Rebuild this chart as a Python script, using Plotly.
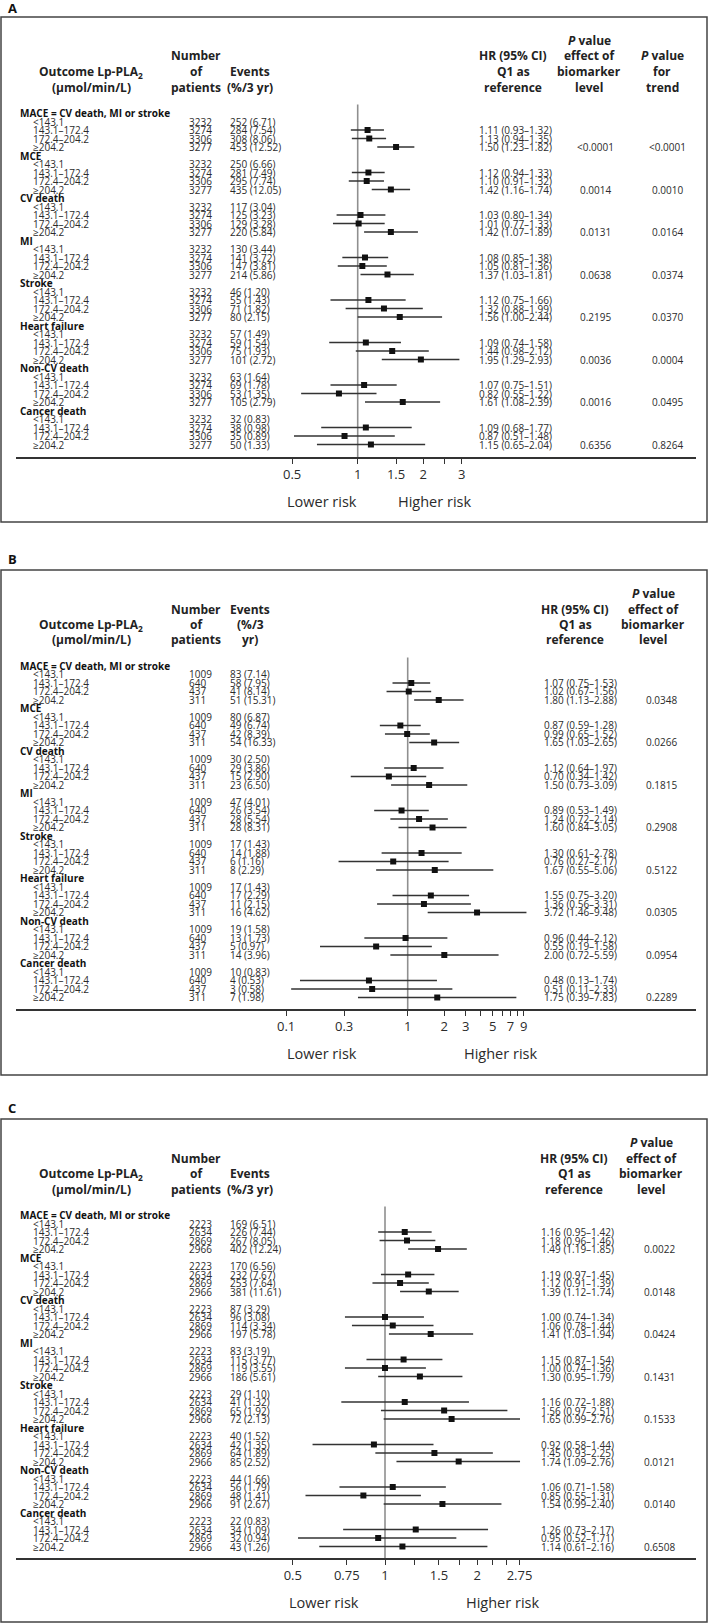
import math
import plotly.graph_objects as go

W, H = 709, 1624
ROW = 8.5
FONT = "Open Sans"

groups = ["MACE = CV death, MI or stroke", "MCE", "CV death", "MI", "Stroke",
          "Heart failure", "Non-CV death", "Cancer death"]
levels = ["<143.1", "143.1–172.4", "172.4–204.2", "≥204.2"]

# ---------------- Panel A ----------------
a_patients = [3232, 3274, 3306, 3277]
a_events = [[252, 284, 308, 453], [250, 281, 295, 435], [117, 125, 129, 220], [130, 141, 147, 214],
            [46, 55, 71, 80], [57, 59, 75, 101], [63, 69, 53, 105], [32, 38, 35, 50]]
a_rate = [[6.71, 7.54, 8.06, 12.52], [6.66, 7.49, 7.74, 12.05], [3.04, 3.23, 3.28, 5.84], [3.44, 3.72, 3.81, 5.86],
          [1.20, 1.43, 1.82, 2.15], [1.49, 1.54, 1.93, 2.72], [1.64, 1.78, 1.35, 2.79], [0.83, 0.98, 0.89, 1.33]]
a_hr = [[1.11, 1.13, 1.50], [1.12, 1.10, 1.42], [1.03, 1.01, 1.42], [1.08, 1.05, 1.37],
        [1.12, 1.32, 1.56], [1.09, 1.44, 1.95], [1.07, 0.82, 1.61], [1.09, 0.87, 1.15]]
a_lo = [[0.93, 0.94, 1.23], [0.94, 0.91, 1.16], [0.80, 0.77, 1.07], [0.85, 0.81, 1.03],
        [0.75, 0.88, 1.00], [0.74, 0.98, 1.29], [0.75, 0.55, 1.08], [0.68, 0.51, 0.65]]
a_hi = [[1.32, 1.35, 1.82], [1.33, 1.32, 1.74], [1.34, 1.33, 1.89], [1.38, 1.36, 1.81],
        [1.66, 1.99, 2.44], [1.58, 2.12, 2.93], [1.51, 1.22, 2.39], [1.77, 1.48, 2.04]]
a_p_effect = ["<0.0001", "0.0014", "0.0131", "0.0638", "0.2195", "0.0036", "0.0016", "0.6356"]
a_p_trend = ["<0.0001", "0.0010", "0.0164", "0.0374", "0.0370", "0.0004", "0.0495", "0.8264"]
a_ticks = [0.5, 1, 1.5, 2, 3]
a_ticktext = ["0.5", "1", "1.5", "2", "3"]
a_minor_ticks = [2.5]

# ---------------- Panel B ----------------
b_patients = [1009, 640, 437, 311]
b_events = [[83, 58, 41, 51], [80, 49, 42, 54], [30, 29, 15, 23], [47, 26, 28, 28],
            [17, 14, 6, 8], [17, 17, 11, 16], [19, 13, 5, 14], [10, 4, 3, 7]]
b_rate = [[7.14, 7.95, 8.14, 15.31], [6.87, 6.74, 8.39, 16.33], [2.50, 3.86, 2.90, 6.50], [4.01, 3.54, 5.54, 8.31],
          [1.43, 1.88, 1.16, 2.29], [1.43, 2.29, 2.15, 4.62], [1.58, 1.73, 0.97, 3.96], [0.83, 0.53, 0.58, 1.98]]
b_hr = [[1.07, 1.02, 1.80], [0.87, 0.99, 1.65], [1.12, 0.70, 1.50], [0.89, 1.24, 1.60],
        [1.30, 0.76, 1.67], [1.55, 1.36, 3.72], [0.96, 0.55, 2.00], [0.48, 0.51, 1.75]]
b_lo = [[0.75, 0.67, 1.13], [0.59, 0.65, 1.03], [0.64, 0.34, 0.73], [0.53, 0.72, 0.84],
        [0.61, 0.27, 0.55], [0.75, 0.56, 1.46], [0.44, 0.19, 0.72], [0.13, 0.11, 0.39]]
b_hi = [[1.53, 1.56, 2.88], [1.28, 1.52, 2.65], [1.97, 1.42, 3.09], [1.49, 2.14, 3.05],
        [2.78, 2.17, 5.06], [3.20, 3.31, 9.48], [2.12, 1.58, 5.59], [1.74, 2.33, 7.83]]
b_p_effect = ["0.0348", "0.0266", "0.1815", "0.2908", "0.5122", "0.0305", "0.0954", "0.2289"]
b_ticks = [0.1, 0.3, 1, 2, 3, 5, 7, 9]
b_ticktext = ["0.1", "0.3", "1", "2", "3", "5", "7", "9"]
b_minor_ticks = [4, 6, 8]

# ---------------- Panel C ----------------
c_patients = [2223, 2634, 2869, 2966]
c_events = [[169, 226, 267, 402], [170, 232, 253, 381], [87, 96, 114, 197], [83, 115, 119, 186],
            [29, 41, 65, 72], [40, 42, 64, 85], [44, 56, 48, 91], [22, 34, 32, 43]]
c_rate = [[6.51, 7.44, 8.05, 12.24], [6.56, 7.67, 7.64, 11.61], [3.29, 3.08, 3.34, 5.78], [3.19, 3.77, 3.55, 5.61],
          [1.10, 1.32, 1.92, 2.13], [1.52, 1.35, 1.89, 2.52], [1.66, 1.79, 1.41, 2.67], [0.83, 1.09, 0.94, 1.26]]
c_hr = [[1.16, 1.18, 1.49], [1.19, 1.12, 1.39], [1.00, 1.06, 1.41], [1.15, 1.00, 1.30],
        [1.16, 1.56, 1.65], [0.92, 1.45, 1.74], [1.06, 0.85, 1.54], [1.26, 0.95, 1.14]]
c_lo = [[0.95, 0.96, 1.19], [0.97, 0.91, 1.12], [0.74, 0.78, 1.03], [0.87, 0.74, 0.95],
        [0.72, 0.97, 0.99], [0.58, 0.93, 1.09], [0.71, 0.55, 0.99], [0.73, 0.52, 0.61]]
c_hi = [[1.42, 1.46, 1.85], [1.45, 1.39, 1.74], [1.34, 1.44, 1.94], [1.54, 1.36, 1.79],
        [1.88, 2.51, 2.76], [1.44, 2.25, 2.76], [1.58, 1.31, 2.40], [2.17, 1.71, 2.16]]
c_p_effect = ["0.0022", "0.0148", "0.0424", "0.1431", "0.1533", "0.0121", "0.0140", "0.6508"]
c_ticks = [0.5, 0.75, 1, 1.5, 2, 2.75]
c_ticktext = ["0.5", "0.75", "1", "1.5", "2", "2.75"]
c_minor_ticks = [1.25, 1.75, 2.25, 2.5]

# ---------------- layout geometry (pixels) ----------------
panels = [
    dict(label="A", top=17, bottom=522, label_y=8, row0=113, axis=457, x1=357.7, k=94.6,
         lower=322, higher=434, hr_x=477, p_x=[595, 667],
         patients=a_patients, events=a_events, rate=a_rate, hr=a_hr, lo=a_lo, hi=a_hi,
         pvals=[a_p_effect, a_p_trend], ticks=a_ticks, ticktext=a_ticktext, minor=a_minor_ticks,
         events_hdr=["Events", "(%/3 yr)"], hr_hx=513,
         p_hdr=[(589, ["<i>P</i> value", "effect of", "biomarker", "level"]),
                (662, ["<i>P</i> value", "for", "trend"])]),
    dict(label="B", top=570, bottom=1075, label_y=559, row0=666, axis=1009, x1=407.7, k=52.8,
         lower=322, higher=500, hr_x=542, p_x=[661],
         patients=b_patients, events=b_events, rate=b_rate, hr=b_hr, lo=b_lo, hi=b_hi,
         pvals=[b_p_effect], ticks=b_ticks, ticktext=b_ticktext, minor=b_minor_ticks,
         events_hdr=["Events", "(%/3", "yr)"], hr_hx=575,
         p_hdr=[(653, ["<i>P</i> value", "effect of", "biomarker", "level"])]),
    dict(label="C", top=1119, bottom=1622, label_y=1108, row0=1215, axis=1558, x1=385.0, k=133.0,
         lower=324, higher=502, hr_x=539, p_x=[659],
         patients=c_patients, events=c_events, rate=c_rate, hr=c_hr, lo=c_lo, hi=c_hi,
         pvals=[c_p_effect], ticks=c_ticks, ticktext=c_ticktext, minor=c_minor_ticks,
         events_hdr=["Events", "(%/3 yr)"], hr_hx=574,
         p_hdr=[(651, ["<i>P</i> value", "effect of", "biomarker", "level"])]),
]


def xp(px):
    return px / W


def yp(px):
    return 1 - px / H


fig = go.Figure()
annotations = []
shapes = []
layout_axes = {}

TXT = "#2b2b2b"
LINE = "#333333"

for i, P in enumerate(panels):
    sfx = "" if i == 0 else str(i + 1)
    xa, ya = "x" + sfx, "y" + sfx
    r_axis = (P["axis"] - P["row0"]) / ROW
    r_top = (P["top"] - P["row0"]) / ROW
    lo10 = (16 - P["x1"]) / P["k"] / math.log(10)
    hi10 = (696 - P["x1"]) / P["k"] / math.log(10)

    layout_axes["xaxis" + sfx] = dict(
        type="log", domain=[xp(16), xp(696)], range=[lo10, hi10], anchor=ya,
        showline=True, linecolor=LINE, linewidth=1.5, ticks="outside", ticklen=5,
        tickwidth=1.3, tickcolor=LINE, tickmode="array", tickvals=P["ticks"],
        ticktext=P["ticktext"],
        minor=dict(tickmode="array", tickvals=P["minor"], ticks="outside", ticklen=5,
                   tickwidth=1.3, tickcolor=LINE, showgrid=False),
        tickfont=dict(family=FONT, size=13, color=TXT), showgrid=False, zeroline=False,
        fixedrange=True)
    layout_axes["yaxis" + sfx] = dict(
        domain=[yp(P["axis"]), yp(P["top"])], range=[r_axis, r_top], anchor=xa,
        visible=False, showgrid=False, zeroline=False, fixedrange=True)

    # reference line at HR = 1
    fig.add_trace(go.Scatter(x=[1, 1], y=[-1, r_axis], mode="lines",
                             line=dict(color="#8f8f8f", width=1.6),
                             xaxis=xa, yaxis=ya, showlegend=False, hoverinfo="skip"))

    cx, cy, mx, my = [], [], [], []
    for g, name in enumerate(groups):
        base = 5 * g
        annotations.append(dict(x=xp(18), y=base, xref="paper", yref=ya, text=name,
                                showarrow=False, xanchor="left", yanchor="middle",
                                font=dict(family=FONT, size=10, color="#111", weight="bold")))
        for j, lev in enumerate(levels):
            r = base + 1 + j
            annotations.append(dict(x=xp(31), y=r, xref="paper", yref=ya, text=lev,
                                    showarrow=False, xanchor="left", yanchor="middle",
                                    font=dict(family=FONT, size=10, color=TXT)))
            annotations.append(dict(x=xp(187), y=r, xref="paper", yref=ya,
                                    text=str(P["patients"][j]), showarrow=False,
                                    xanchor="left", yanchor="middle",
                                    font=dict(family=FONT, size=10, color=TXT)))
            annotations.append(dict(x=xp(228), y=r, xref="paper", yref=ya,
                                    text=f"{P['events'][g][j]} ({P['rate'][g][j]:.2f})",
                                    showarrow=False, xanchor="left", yanchor="middle",
                                    font=dict(family=FONT, size=10, color=TXT)))
            if j >= 1:
                h, l, u = P["hr"][g][j - 1], P["lo"][g][j - 1], P["hi"][g][j - 1]
                cx += [l, u, None]
                cy += [r, r, None]
                mx.append(h)
                my.append(r)
                annotations.append(dict(x=xp(P["hr_x"]), y=r, xref="paper", yref=ya,
                                        text=f"{h:.2f} ({l:.2f}–{u:.2f})", showarrow=False,
                                        xanchor="left", yanchor="middle",
                                        font=dict(family=FONT, size=10, color=TXT)))
        for pv, px in zip(P["pvals"], P["p_x"]):
            annotations.append(dict(x=xp(px), y=base + 4, xref="paper", yref=ya,
                                    text=pv[g], showarrow=False, xanchor="center",
                                    yanchor="middle",
                                    font=dict(family=FONT, size=10, color=TXT)))

    fig.add_trace(go.Scatter(x=cx, y=cy, mode="lines", line=dict(color=LINE, width=1.3),
                             xaxis=xa, yaxis=ya, showlegend=False, hoverinfo="skip",
                             connectgaps=False))
    fig.add_trace(go.Scatter(x=mx, y=my, mode="markers",
                             marker=dict(symbol="square", size=6, color="#111"),
                             xaxis=xa, yaxis=ya, showlegend=False))

    # headers
    hdrs = [(91, ["Outcome Lp-PLA<sub>2</sub>", "(µmol/min/L)"]),
            (196, ["Number", "of", "patients"]),
            (250, P["events_hdr"]),
            (P["hr_hx"], ["HR (95% CI)", "Q1 as", "reference"])] + P["p_hdr"]
    for hx, lines in hdrs:
        n = len(lines)
        for li, t in enumerate(lines):
            py = P["row0"] - 26 - 15.5 * (n - 1 - li)
            annotations.append(dict(x=xp(hx), y=yp(py), xref="paper", yref="paper", text=t,
                                    showarrow=False, xanchor="center", yanchor="middle",
                                    font=dict(family=FONT, size=12, color="#222", weight="bold")))

    # lower / higher risk
    rl = P["axis"] + 44
    annotations.append(dict(x=xp(P["lower"]), y=yp(rl), xref="paper", yref="paper",
                            text="Lower risk", showarrow=False, xanchor="center",
                            yanchor="middle", font=dict(family=FONT, size=14.5, color=TXT)))
    annotations.append(dict(x=xp(P["higher"]), y=yp(rl), xref="paper", yref="paper",
                            text="Higher risk", showarrow=False, xanchor="center",
                            yanchor="middle", font=dict(family=FONT, size=14.5, color=TXT)))
    # panel letter
    annotations.append(dict(x=xp(6), y=yp(P["label_y"]), xref="paper", yref="paper",
                            text=P["label"], showarrow=False, xanchor="left", yanchor="middle",
                            font=dict(family=FONT, size=13, color="#111", weight="bold")))
    # panel box
    shapes.append(dict(type="rect", xref="paper", yref="paper", x0=xp(1), x1=xp(707),
                       y0=yp(P["bottom"]), y1=yp(P["top"]),
                       line=dict(color="#444", width=1.5)))

fig.update_layout(width=W, height=H, margin=dict(l=0, r=0, t=0, b=0),
                  paper_bgcolor="white", plot_bgcolor="white",
                  annotations=annotations, shapes=shapes, showlegend=False,
                  **layout_axes)

fig.write_html("out.html", config={"displayModeBar": False},
               post_script="document.body.style.margin='0';document.body.style.overflow='hidden';")
